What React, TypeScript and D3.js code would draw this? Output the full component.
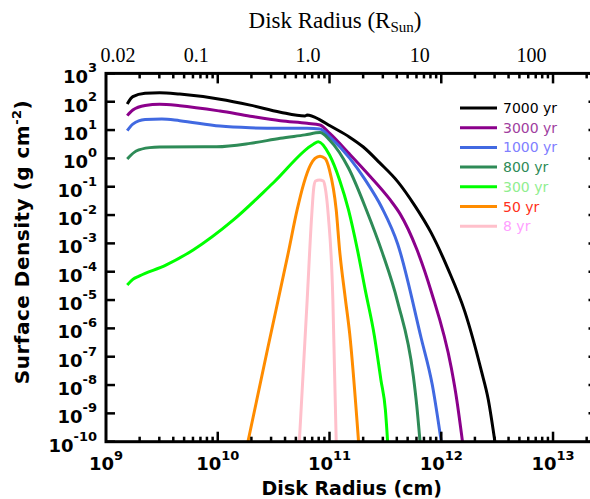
import React from "react";
import * as d3 from "d3";

// ---------- data ----------
const ages = ["7000 yr", "3000 yr", "1000 yr", "800 yr", "300 yr", "50 yr", "8 yr"];
const lineColors = ["#000000", "#8b008b", "#4169e1", "#2e8b57", "#00ff00", "#ff8c00", "#ffc0cb"];
const textColors = ["#000000", "#a040a0", "#8080ff", "#2e8b57", "#90ee90", "#ff3020", "#ffa0ff"];

// log10 of radius (cm) and log10 of surface density (g cm^-2)
const logR7000 = [9.19, 9.24, 9.35, 9.48, 9.66, 10.02, 10.29, 10.56, 10.78, 10.8, 10.915, 11.0, 11.18, 11.3, 11.45, 11.61, 11.76, 11.91, 12.06, 12.21, 12.36, 12.42, 12.48];
const logS7000 = [1.92, 2.18, 2.3, 2.32, 2.27, 2.09, 1.88, 1.63, 1.5, 1.53, 1.36, 1.16, 0.75, 0.41, -0.16, -0.82, -1.65, -2.63, -3.9, -5.4, -7.52, -8.5, -10.0];

const logR3000 = [9.19, 9.24, 9.35, 9.48, 9.66, 10.02, 10.29, 10.56, 10.8, 10.915, 11.0, 11.18, 11.36, 11.54, 11.63, 11.78, 11.91, 12.09, 12.13, 12.19];
const logS3000 = [1.51, 1.71, 1.87, 1.91, 1.86, 1.67, 1.49, 1.33, 1.24, 1.18, 0.89, 0.15, -0.62, -1.45, -1.95, -3.2, -4.7, -7.4, -8.3, -10.0];

const logR1000 = [9.19, 9.24, 9.35, 9.5, 9.66, 10.02, 10.29, 10.56, 10.8, 10.915, 11.0, 11.18, 11.32, 11.47, 11.61, 11.82, 11.92, 12.0];
const logS1000 = [0.98, 1.21, 1.37, 1.39, 1.33, 1.14, 1.08, 1.06, 1.06, 1.04, 0.77, 0.01, -0.76, -1.75, -3.02, -6.34, -8.0, -10.0];

const logR800 = [9.19, 9.27, 9.39, 9.48, 9.99, 10.29, 10.56, 10.78, 10.915, 11.0, 11.17, 11.33, 11.47, 11.61, 11.75, 11.78, 11.81];
const logS800 = [-0.02, 0.26, 0.38, 0.4, 0.41, 0.53, 0.71, 0.83, 0.91, 0.65, -0.34, -1.82, -3.3, -5.07, -7.68, -8.7, -10.0];

const logR300 = [9.19, 9.24, 9.3, 9.54, 9.78, 10.14, 10.5, 10.855, 10.9, 11.0, 11.09, 11.17, 11.25, 11.32, 11.4, 11.46, 11.5, 11.52];
const logS300 = [-4.47, -4.27, -4.15, -3.76, -3.23, -2.17, -0.85, 0.5, 0.59, 0.12, -0.76, -1.82, -3.23, -4.65, -6.23, -7.82, -8.88, -10.0];

const logR50 = [10.27, 10.45, 10.63, 10.71, 10.77, 10.83, 10.87, 10.915, 10.96, 11.0, 11.06, 11.09, 11.14, 11.18, 11.26];
const logS50 = [-10.0, -6.65, -3.35, -1.82, -0.88, -0.23, 0.0, 0.08, 0.0, -0.41, -1.82, -3.23, -4.9, -6.17, -10.0];

const logR8 = [10.73, 10.765, 10.8, 10.84, 10.86, 10.875, 10.91, 10.945, 10.96, 10.99, 11.03, 11.045, 11.06];
const logS8 = [-10.0, -7.5, -5.0, -2.06, -1.0, -0.8, -0.76, -0.8, -1.0, -2.06, -5.0, -7.5, -10.0];

const seriesLogR = [logR7000, logR3000, logR1000, logR800, logR300, logR50, logR8];
const seriesLogS = [logS7000, logS3000, logS1000, logS800, logS300, logS50, logS8];

const xExponents = [9, 10, 11, 12, 13];
const yExponents = [3, 2, 1, 0, -1, -2, -3, -4, -5, -6, -7, -8, -9, -10];
const topLabels = ["0.02", "0.1", "1.0", "10", "100"];
const topValuesRsun = [0.02, 0.1, 1, 10, 100];
const R_SUN_CM = 6.96e10;

// ---------- layout ----------
const W = 590;
const H = 499;
const left = 106;
const right = 597.5;
const top = 73.4;
const bottom = 441.7;

export default function App() {
  const x = d3.scaleLog().domain([1e9, 2.5e13]).range([left, right]);
  const y = d3.scaleLog().domain([1e-10, 1e3]).range([bottom, top]);

  const line = d3
    .line<[number, number]>()
    .x((d) => x(d[0]))
    .y((d) => y(d[1]))
    .curve(d3.curveMonotoneX);

  const series = ages.map((a, i) => ({
    name: a,
    color: lineColors[i],
    textColor: textColors[i],
    pts: seriesLogR[i].map((r, j) => [Math.pow(10, r), Math.pow(10, seriesLogS[i][j])] as [number, number]),
  }));

  // x ticks (major + minor)
  const xTicks: { v: number; major: boolean }[] = [];
  for (let e = 9; e <= 13; e++) {
    for (let m = 1; m <= 9; m++) {
      const v = m * Math.pow(10, e);
      if (v > 1e9 && v < 2.5e13) xTicks.push({ v, major: m === 1 });
    }
  }

  const boldFont = "'DejaVu Sans', Verdana, sans-serif";
  const serif = "'Liberation Serif', 'DejaVu Serif', serif";

  return (
    <svg
      width={W}
      height={H}
      style={{ position: "absolute", left: 0, top: 0, background: "#fff" }}
      xmlns="http://www.w3.org/2000/svg"
    >
      <defs>
        <clipPath id="plotclip">
          <rect x={left} y={top} width={right - left} height={bottom - top} />
        </clipPath>
      </defs>
      <rect x={0} y={0} width={W} height={H} fill="#fff" />

      {/* curves */}
      <g clipPath="url(#plotclip)">
        {series.map((s) => (
          <path key={s.name} d={line(s.pts) || ""} fill="none" stroke={s.color} strokeWidth={3} strokeLinejoin="round" />
        ))}
      </g>

      {/* ticks */}
      <g stroke="#000" strokeWidth={2.5}>
        {xTicks.map((t, i) => (
          <g key={i}>
            <line x1={x(t.v)} x2={x(t.v)} y1={bottom} y2={bottom - (t.major ? 10 : 5)} />
            <line x1={x(t.v)} x2={x(t.v)} y1={top} y2={top + (t.major ? 10 : 5)} />
          </g>
        ))}
        {yExponents.map((e) => (
          <g key={e}>
            <line x1={left} x2={left + 9} y1={y(Math.pow(10, e))} y2={y(Math.pow(10, e))} />
            <line x1={right} x2={right - 9} y1={y(Math.pow(10, e))} y2={y(Math.pow(10, e))} />
          </g>
        ))}
      </g>

      {/* frame */}
      <rect x={left} y={top} width={right - left} height={bottom - top} fill="none" stroke="#000" strokeWidth={3} />

      {/* bottom and left tick labels, axis titles */}
      <g fontFamily={boldFont} fontWeight="bold" fill="#000">
        {xExponents.map((e) => (
          <text key={e} x={x(Math.pow(10, e))} y={470} textAnchor="middle" fontSize={18}>
            10
            <tspan fontSize={13} dy={-10}>
              {e}
            </tspan>
          </text>
        ))}
        {yExponents.map((e) => (
          <text key={e} x={97} y={y(Math.pow(10, e)) + 10} textAnchor="end" fontSize={18}>
            10
            <tspan fontSize={13} dy={-11}>
              {e}
            </tspan>
          </text>
        ))}
        <text x={(left + right) / 2} y={495} textAnchor="middle" fontSize={19}>
          Disk Radius (cm)
        </text>
        <text transform={`translate(29,242) rotate(-90)`} textAnchor="middle" fontSize={20} letterSpacing={0.5}>
          Surface Density (g cm
          <tspan fontSize={13} dy={-8}>
            -2
          </tspan>
          <tspan dy={8}>)</tspan>
        </text>
      </g>

      {/* top axis (solar radii) */}
      <g fontFamily={serif} fill="#000">
        {topLabels.map((lab, i) => (
          <text key={lab} x={x(topValuesRsun[i] * R_SUN_CM) - 4} y={62} textAnchor="middle" fontSize={20}>
            {lab}
          </text>
        ))}
        <text x={335} y={28} textAnchor="middle" fontSize={23}>
          Disk Radius (R
          <tspan fontSize={15} dy={4}>
            Sun
          </tspan>
          <tspan dy={-4}>)</tspan>
        </text>
      </g>

      {/* legend */}
      <g>
        {series.map((s, i) => (
          <g key={s.name} transform={`translate(0,${108 + i * 19.7})`}>
            <line x1={460} x2={497} y1={0} y2={0} stroke={s.color} strokeWidth={3} />
            <text x={503} y={5} fontFamily="'DejaVu Sans', sans-serif" fontSize={14} fill={s.textColor}>
              {s.name}
            </text>
          </g>
        ))}
      </g>
    </svg>
  );
}
